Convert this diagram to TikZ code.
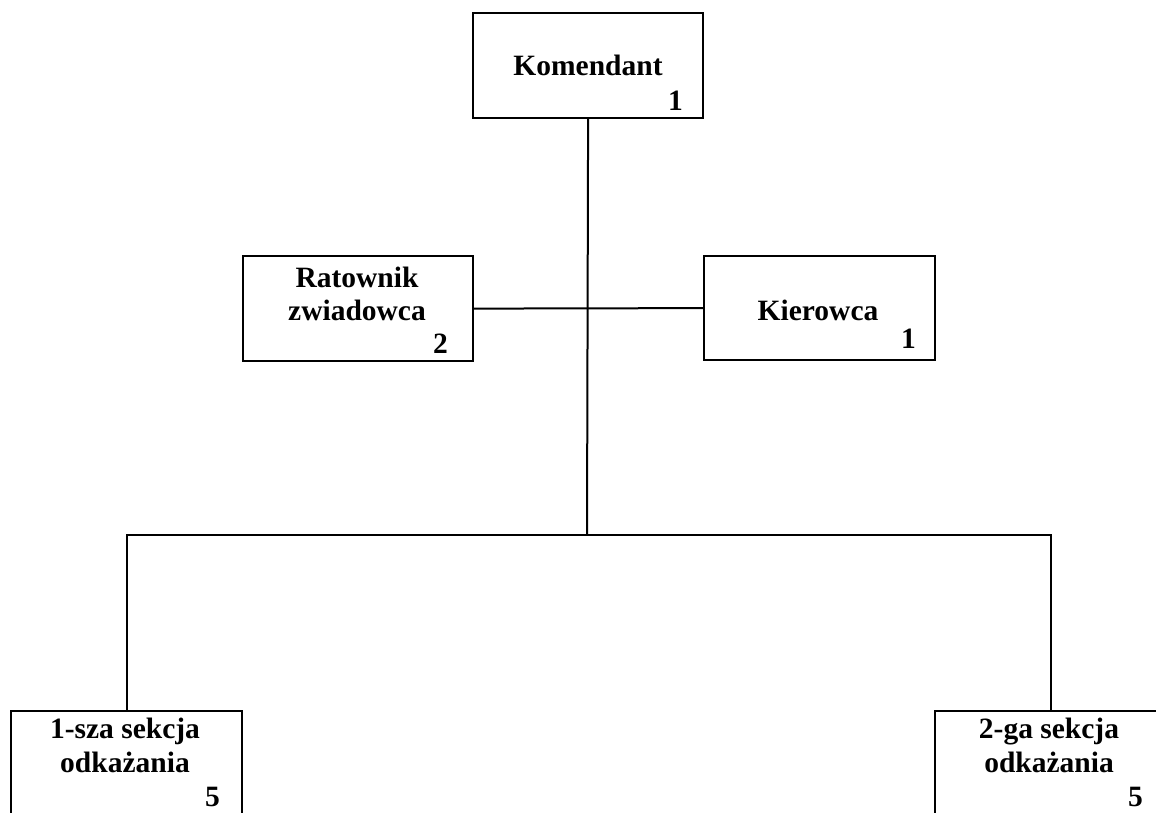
\documentclass[tikz,border=0pt]{standalone}
\usepackage{fontspec}
\setmainfont{Liberation Serif}
\begin{document}
\begin{tikzpicture}[x=1pt,y=-1pt,
  box/.style={draw,line width=2.2pt,minimum width=230pt,minimum height=105pt,inner sep=0pt,anchor=north west},
  lbl/.style={font=\bfseries\fontsize{29.5}{34}\selectfont,anchor=base,inner sep=0pt},
  num/.style={font=\bfseries\fontsize{29.5}{34}\selectfont,anchor=base east,inner sep=0pt},
  conn/.style={line width=2pt}]
\useasboundingbox (0,0) rectangle (1156,812);
\clip (0,0) rectangle (1156,812);
\fill[white] (0,0) rectangle (1156,812);
% boxes
\node[box] (kom) at (472,12) {};
\node[box] (rat) at (242,255) {};
\node[box,minimum width=231pt,minimum height=104pt] (kie) at (703,255) {};
\node[box,minimum width=231pt] (s1) at (10,710) {};
\node[box,minimum width=231pt] (s2) at (934,710) {};
% connectors
\coordinate (j) at (587,535);
\draw[conn] (kom.south) -- (j);
\draw[conn] (rat.east) -- (kie.west);
\draw[conn] (s1.north) |- (j);
\draw[conn] (j) -| (s2.north);
% labels
\node[lbl] (tkom) at (588,75) {Komendant};
\node[lbl] (trat1) at (357,287) {Ratownik};
\node[lbl] (trat2) at (357,320) {zwiadowca};
\node[lbl] (tkie) at (818,320) {Kierowca};
\node[lbl] (ts1a) at (125,738) {1-sza sekcja};
\node[lbl] (ts1b) at (125,772) {odkażania};
\node[lbl] (ts2a) at (1049,738) {2-ga sekcja};
\node[lbl] (ts2b) at (1049,772) {odkażania};
% numbers
\node[num] (nkom) at (683,110) {1};
\node[num] (nrat) at (448,353) {2};
\node[num] (nkie) at (916,348) {1};
\node[num] (ns1) at (220,806) {5};
\node[num] (ns2) at (1143,806) {5};
\end{tikzpicture}
\end{document}
